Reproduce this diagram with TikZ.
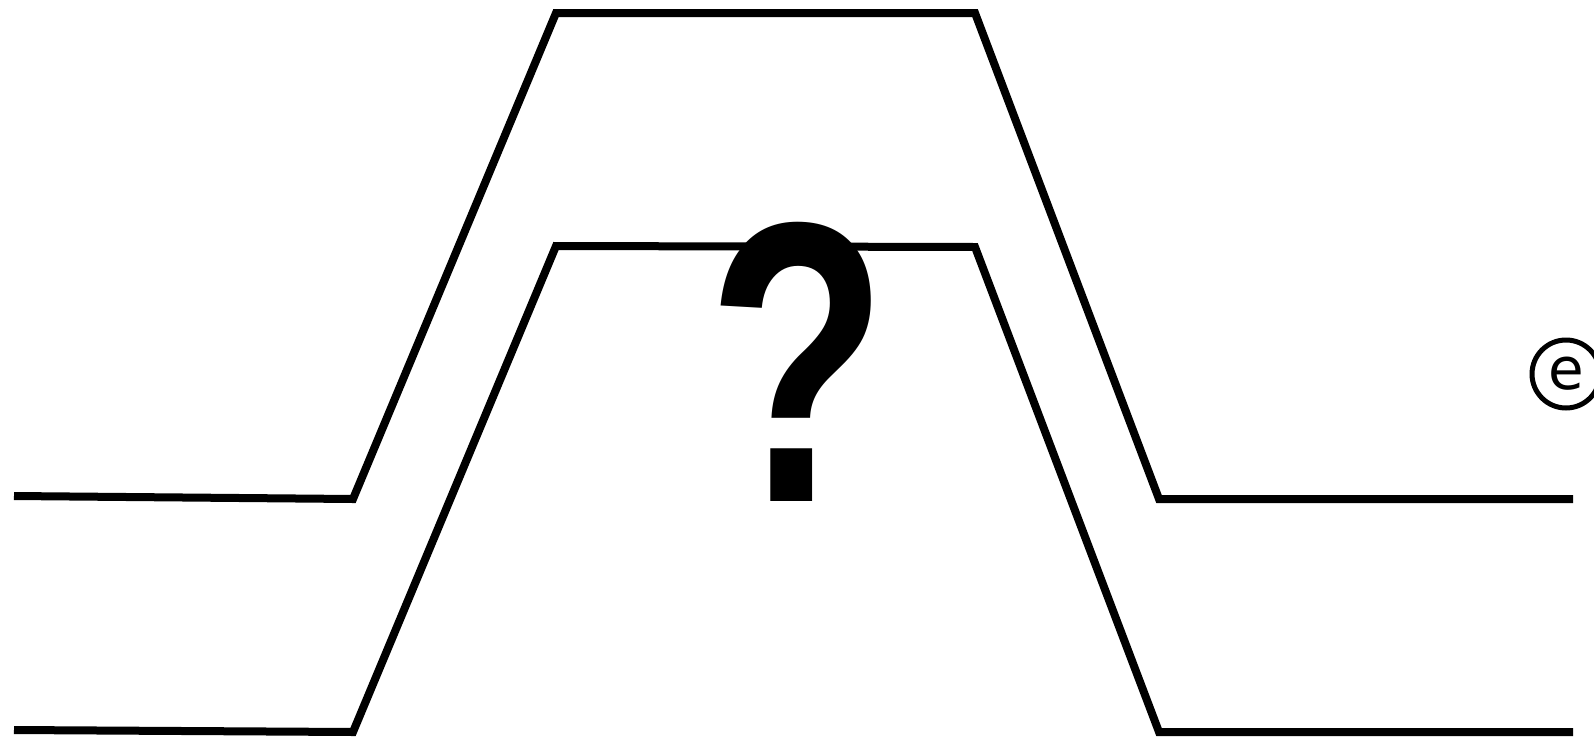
\documentclass[tikz,border=0pt]{standalone}
\usepackage{fontspec}
\setmainfont{Liberation Sans}
\newfontfamily\dejavu{DejaVu Sans}
\begin{document}
\begin{tikzpicture}[x=1pt,y=-1pt,
  wall/.style={line width=8pt,line join=miter,black},
  qmark/.style={inner sep=0pt,font=\bfseries\fontsize{400}{400}\selectfont},
  elec/.style={circle,draw,line width=5pt,minimum size=68pt,inner sep=0pt,font=\dejavu\fontsize{58}{58}\selectfont}]
\useasboundingbox (0,0) rectangle (1594,739);
\coordinate (u1) at (14,496);
\coordinate (u2) at (353,499);
\coordinate (u3) at (556,13);
\coordinate (u4) at (975,13);
\coordinate (u5) at (1159,499);
\coordinate (u6) at (1573,499);
\coordinate (l1) at (14,730);
\coordinate (l2) at (353,732);
\coordinate (l3) at (556,246);
\coordinate (l4) at (975,247);
\coordinate (l5) at (1159,732);
\coordinate (l6) at (1573,732);
\draw[wall] (u1) -- (u2) -- (u3) -- (u4) -- (u5) -- (u6);
\draw[wall] (l1) -- (l2) -- (l3) -- (l4) -- (l5) -- (l6);
\node[qmark] (q) at (798,362) {\scalebox{0.74}[1]{?}};
\node[elec] (e) at (1566,374) {\raisebox{-5pt}{e}};
\end{tikzpicture}
\end{document}
